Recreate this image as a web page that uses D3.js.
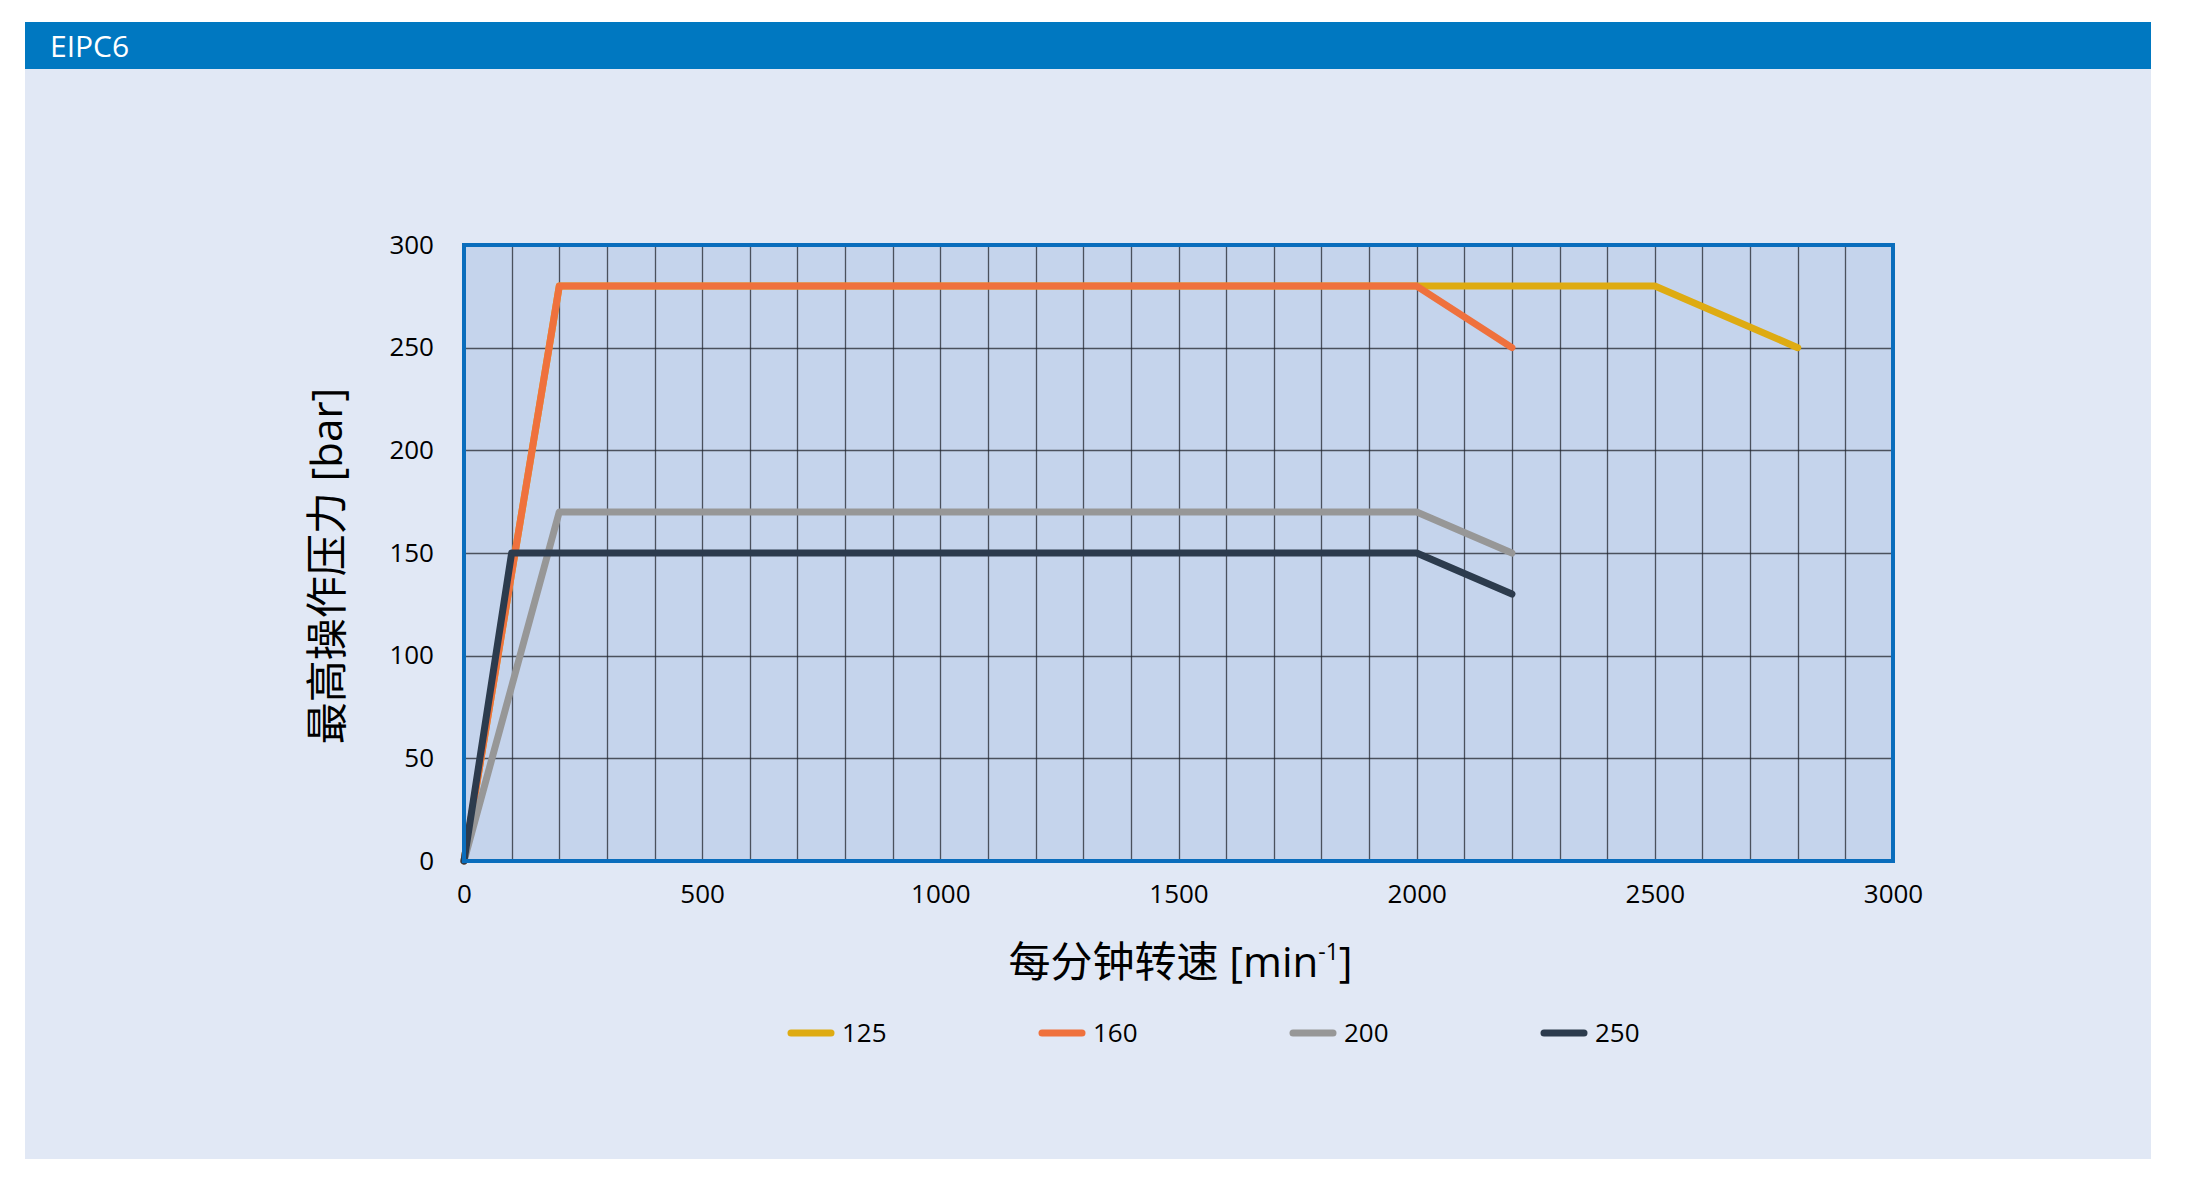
<!DOCTYPE html>
<html>
<head>
<meta charset="utf-8">
<script src="https://cdn.jsdelivr.net/npm/d3@7"></script>
<style>
  html, body { margin: 0; padding: 0; background: #ffffff; }
  svg { display: block; }
  text { font-family: "Open Sans", "Noto Sans CJK SC", sans-serif; }
</style>
</head>
<body>
<svg id="chart" width="2192" height="1204"></svg>
<script>
// ---- data ----
const seriesNames = ["125", "160", "200", "250"];
const seriesColors = ["#deab12", "#ef713d", "#979797", "#2c3b4d"];
const speed125 = [0, 200, 2500, 2800];
const pressure125 = [0, 280, 280, 250];
const speed160 = [0, 200, 2000, 2200];
const pressure160 = [0, 280, 280, 250];
const speed200 = [0, 200, 2000, 2200];
const pressure200 = [0, 170, 170, 150];
const speed250 = [0, 100, 2000, 2200];
const pressure250 = [0, 150, 150, 130];
const xTicks = [0, 500, 1000, 1500, 2000, 2500, 3000];
const yTicks = [0, 50, 100, 150, 200, 250, 300];
const xGrid = d3.range(0, 3001, 100);
const title = "EIPC6";
const xTitle = "每分钟转速 [min";
const xTitleSup = "-1";
const yTitle = "最高操作压力 [bar]";

const series = [
  { name: seriesNames[0], color: seriesColors[0], xs: speed125, ys: pressure125 },
  { name: seriesNames[1], color: seriesColors[1], xs: speed160, ys: pressure160 },
  { name: seriesNames[2], color: seriesColors[2], xs: speed200, ys: pressure200 },
  { name: seriesNames[3], color: seriesColors[3], xs: speed250, ys: pressure250 }
];

const svg = d3.select("#chart");

// panel + header
svg.append("rect").attr("x", 25).attr("y", 22).attr("width", 2126).attr("height", 1137).attr("fill", "#e1e8f5");
svg.append("rect").attr("x", 25).attr("y", 22).attr("width", 2126).attr("height", 47).attr("fill", "#0078c1");
svg.append("text").attr("x", 50).attr("y", 57).attr("fill", "#ffffff")
  .style("font-size", "30px").text(title);

const x = d3.scaleLinear().domain([0, 3000]).range([464, 1893]);
const y = d3.scaleLinear().domain([0, 300]).range([861, 245]);

// plot background
svg.append("rect").attr("x", x(0)).attr("y", y(300))
  .attr("width", x(3000) - x(0)).attr("height", y(0) - y(300)).attr("fill", "#c5d4ec");

// grid lines
const grid = svg.append("g");
grid.selectAll("line.v").data(xGrid).join("line").attr("class", "v")
  .attr("x1", d => Math.round(x(d)) + 0.5).attr("x2", d => Math.round(x(d)) + 0.5)
  .attr("y1", y(300)).attr("y2", y(0))
  .attr("stroke", "#22262e").attr("stroke-opacity", 0.75).attr("stroke-width", 1.3);
grid.selectAll("line.h").data(yTicks).join("line").attr("class", "h")
  .attr("y1", d => Math.round(y(d)) + 0.5).attr("y2", d => Math.round(y(d)) + 0.5)
  .attr("x1", x(0)).attr("x2", x(3000))
  .attr("stroke", "#22262e").attr("stroke-opacity", 0.75).attr("stroke-width", 1.3);

// lines
const line = d3.line().x(d => x(d[0])).y(d => y(d[1]));
svg.append("g").selectAll("path").data(series).join("path")
  .attr("d", s => line(s.xs.map((v, i) => [v, s.ys[i]])))
  .attr("fill", "none").attr("stroke", s => s.color)
  .attr("stroke-width", 7).attr("stroke-linejoin", "round").attr("stroke-linecap", "round");

// plot border
svg.append("rect").attr("x", x(0)).attr("y", y(300))
  .attr("width", x(3000) - x(0)).attr("height", y(0) - y(300))
  .attr("fill", "none").attr("stroke", "#0a6dbc").attr("stroke-width", 4);

// axes (labels only)
const xAxis = svg.append("g").attr("transform", `translate(0,${y(0) + 24})`)
  .call(d3.axisBottom(x).tickValues(xTicks).tickSize(0).tickPadding(0).tickFormat(d3.format("d")));
xAxis.select(".domain").remove();
xAxis.selectAll("text").style("font-size", "26px").attr("fill", "#000").attr("dy", "0.71em")
  .style("font-family", "'Open Sans', sans-serif");

const yAxis = svg.append("g").attr("transform", `translate(434,0)`)
  .call(d3.axisLeft(y).tickValues(yTicks).tickSize(0).tickPadding(0).tickFormat(d3.format("d")));
yAxis.select(".domain").remove();
yAxis.selectAll("text").style("font-size", "26px").attr("fill", "#000")
  .style("font-family", "'Open Sans', sans-serif");

// axis titles
const xt = svg.append("text").attr("x", (x(0) + x(3000)) / 2 + 2).attr("y", 977)
  .attr("text-anchor", "middle").style("font-size", "42px").attr("fill", "#000");
xt.append("tspan").text(xTitle);
xt.append("tspan").text(xTitleSup).style("font-size", "23px").attr("dy", "-17");
xt.append("tspan").text("]").attr("dy", "17");

svg.append("text").attr("transform", "translate(342,566) rotate(-90)")
  .attr("text-anchor", "middle").style("font-size", "42px").attr("fill", "#000").text(yTitle);

// legend
const legend = svg.append("g").selectAll("g").data(series).join("g")
  .attr("transform", (d, i) => `translate(${791 + i * 251},1033)`);
legend.append("line").attr("x1", 0).attr("x2", 40).attr("y1", 0).attr("y2", 0)
  .attr("stroke", d => d.color).attr("stroke-width", 7).attr("stroke-linecap", "round");
legend.append("text").attr("x", 51).attr("y", 0).attr("dy", "0.35em")
  .style("font-size", "26px").attr("fill", "#000").text(d => d.name);
</script>
</body>
</html>
